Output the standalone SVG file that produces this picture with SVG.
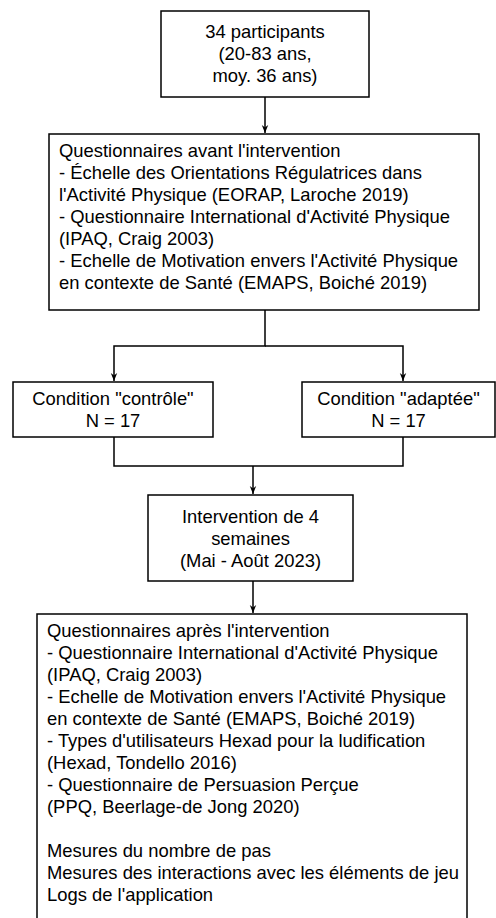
<svg xmlns="http://www.w3.org/2000/svg" width="496" height="918" viewBox="0 0 496 918">
<style>
.box{fill:#fff;stroke:#000;stroke-width:1.5}
.t{font-family:"Liberation Sans",Arial,sans-serif;font-size:18.4px;fill:#000}
.c{text-anchor:middle}
.ln{fill:none;stroke:#000;stroke-width:1.5}
</style>
<defs>
<marker id="ah" viewBox="0 0 10 10" refX="10" refY="5" markerWidth="8" markerHeight="8" markerUnits="userSpaceOnUse" orient="auto">
<path d="M0,1 L10,5 L0,9 L3,5 z" fill="#000"/>
</marker>
</defs>
<rect width="496" height="918" fill="#fff"/>
<g id="connectors">
<path class="ln" d="M265,97 V133" marker-end="url(#ah)"/>
<path class="ln" d="M265,310 V346 H114 V381" marker-end="url(#ah)"/>
<path class="ln" d="M265,346 H403 V381" marker-end="url(#ah)"/>
<path class="ln" d="M114,437 V466 H403 V437"/>
<path class="ln" d="M253,466 V494" marker-end="url(#ah)"/>
<path class="ln" d="M253,581 V613" marker-end="url(#ah)"/>
</g>
<g id="participants">
<rect class="box" x="161" y="11" width="208" height="86"/>
<text class="t c" x="265" y="38">34 participants</text>
<text class="t c" x="265" y="60">(20-83 ans,</text>
<text class="t c" x="265" y="82">moy. 36 ans)</text>
</g>
<g id="avant">
<rect class="box" x="49" y="134" width="430" height="176"/>
<text class="t" x="59" y="157">Questionnaires avant l'intervention</text>
<text class="t" x="59" y="179">- Échelle des Orientations Régulatrices dans</text>
<text class="t" x="59" y="201">l'Activité Physique (EORAP, Laroche 2019)</text>
<text class="t" x="59" y="223">- Questionnaire International d'Activité Physique</text>
<text class="t" x="59" y="245">(IPAQ, Craig 2003)</text>
<text class="t" x="59" y="267">- Echelle de Motivation envers l'Activité Physique</text>
<text class="t" x="59" y="289">en contexte de Santé (EMAPS, Boiché 2019)</text>
</g>
<g id="controle">
<rect class="box" x="13" y="382" width="200" height="55"/>
<text class="t c" x="113" y="405">Condition "contrôle"</text>
<text class="t c" x="113" y="427">N = 17</text>
</g>
<g id="adaptee">
<rect class="box" x="302" y="382" width="193" height="55"/>
<text class="t c" x="398.5" y="405">Condition "adaptée"</text>
<text class="t c" x="398.5" y="427">N = 17</text>
</g>
<g id="intervention">
<rect class="box" x="148" y="495" width="205" height="86"/>
<text class="t c" x="250.5" y="523">Intervention de 4</text>
<text class="t c" x="250.5" y="545">semaines</text>
<text class="t c" x="250.5" y="567">(Mai - Août 2023)</text>
</g>
<g id="apres">
<rect class="box" x="37" y="614" width="430" height="330"/>
<text class="t" x="47" y="637">Questionnaires après l'intervention</text>
<text class="t" x="47" y="659">- Questionnaire International d'Activité Physique</text>
<text class="t" x="47" y="681">(IPAQ, Craig 2003)</text>
<text class="t" x="47" y="703">- Echelle de Motivation envers l'Activité Physique</text>
<text class="t" x="47" y="725">en contexte de Santé (EMAPS, Boiché 2019)</text>
<text class="t" x="47" y="747">- Types d'utilisateurs Hexad pour la ludification</text>
<text class="t" x="47" y="769">(Hexad, Tondello 2016)</text>
<text class="t" x="47" y="791">- Questionnaire de Persuasion Perçue</text>
<text class="t" x="47" y="813">(PPQ, Beerlage-de Jong 2020)</text>
<text class="t" x="47" y="857">Mesures du nombre de pas</text>
<text class="t" x="47" y="879">Mesures des interactions avec les éléments de jeu</text>
<text class="t" x="47" y="901">Logs de l'application</text>
</g>
</svg>
